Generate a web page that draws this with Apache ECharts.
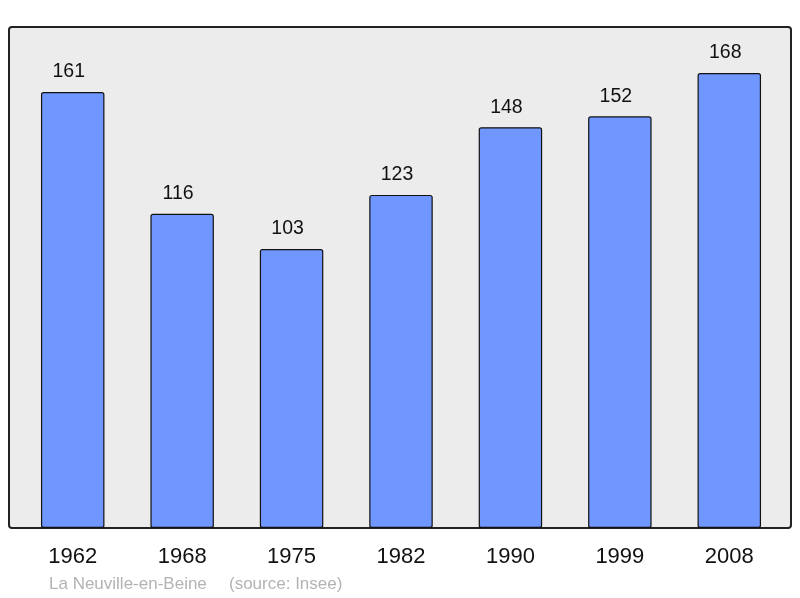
<!DOCTYPE html>
<html><head><meta charset="utf-8">
<script src="https://cdn.jsdelivr.net/npm/echarts@6/dist/echarts.min.js"></script>
<style>html,body{margin:0;padding:0;background:#fff}#c{width:800px;height:598px}</style>
</head><body><div id="c"></div>
<script>
const categories = ['1962','1968','1975','1982','1990','1999','2008'];
const population = [161,116,103,123,148,152,168];
const footerName = 'La Neuville-en-Beine';
const footerSource = '(source: Insee)';

const chart = echarts.init(document.getElementById('c'), null, {renderer:'canvas'});
chart.setOption({
  animation:false,
  backgroundColor:'#ffffff',
  graphic:[
    {type:'rect', shape:{x:9,y:27,width:782,height:501,r:3}, style:{fill:'#ececec',stroke:'#222',lineWidth:2}, z:-10},
    {type:'text', left:49, top:576, style:{text:footerName, fill:'#b3b3b3', font:'17px "Liberation Sans", Arial, sans-serif'}},
    {type:'text', left:229, top:576, style:{text:footerSource, fill:'#b3b3b3', font:'17px "Liberation Sans", Arial, sans-serif'}}
  ],
  grid:{left:18, right:16, top:27, bottom:70, containLabel:false},
  xAxis:{type:'category', data:categories,
    axisLine:{show:false}, axisTick:{show:false},
    axisLabel:{color:'#111', fontSize:22, fontFamily:'"Liberation Sans", Arial, sans-serif', margin:18}},
  yAxis:{type:'value', min:0, max:185, show:false, splitLine:{show:false}},
  series:[{type:'bar', data:population, barWidth:'58%',
    itemStyle:{color:'#7097ff', borderColor:'#111', borderWidth:1.2, borderRadius:2},
    label:{show:true, position:'top', distance:10, offset:[-4,0], color:'#111', fontSize:19.5, fontFamily:'"Liberation Sans", Arial, sans-serif'}
  }]
});
</script></body></html>
